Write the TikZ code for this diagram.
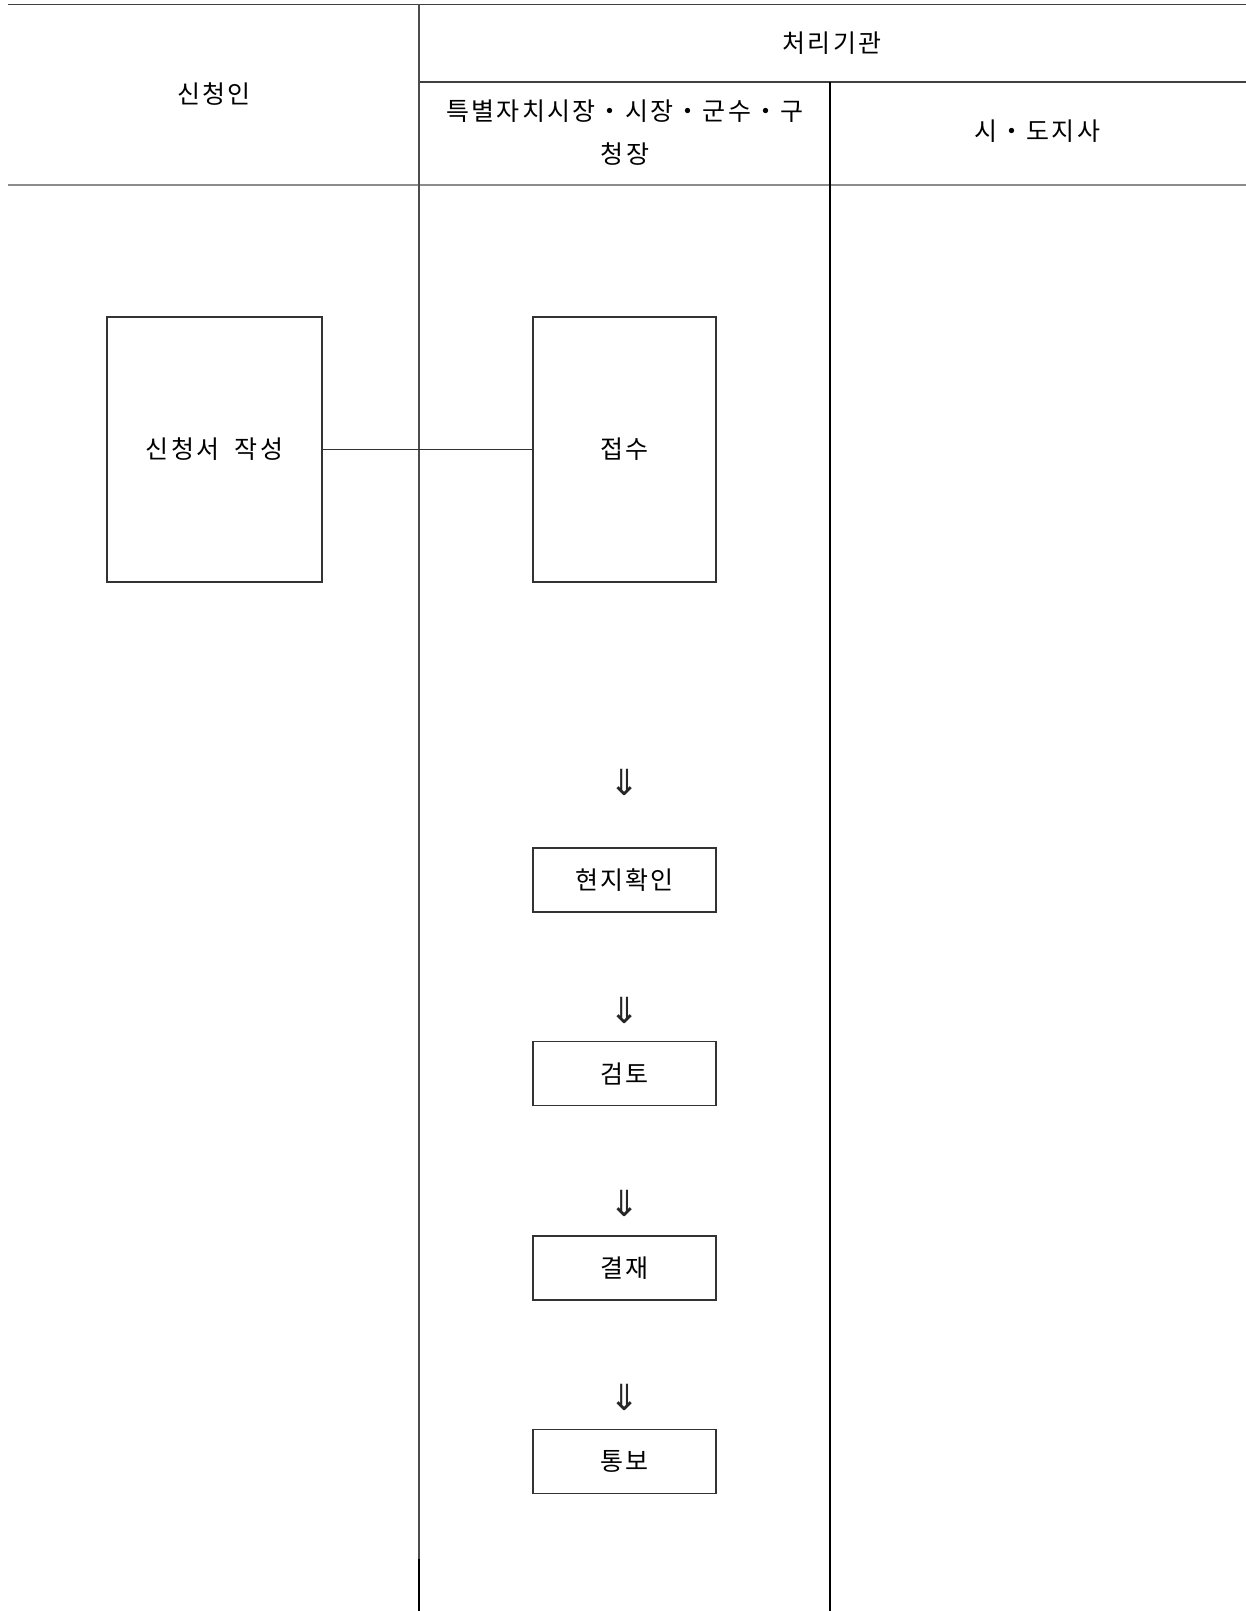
\documentclass[tikz,border=0pt]{standalone}
\usepackage{fontspec}
\setmainfont{Noto Sans CJK KR}[LetterSpace=9]
\newfontfamily\arrowfont{DejaVu Sans}
\begin{document}
\begin{tikzpicture}[x=1pt,y=-1pt,
  rule/.style={line width=1.3pt,draw=black!75},
  hdr/.style={font=\fontsize{25}{43}\selectfont,align=center,inner sep=0pt},
  procbox/.style={draw=black!80,line width=1.3pt,font=\fontsize{25}{30}\selectfont,inner sep=0pt,minimum width=183pt,minimum height=64pt},
  arr/.style={font=\arrowfont\fontsize{36}{36}\selectfont,text=black!85,inner sep=0pt}]
\useasboundingbox (0,0) rectangle (1246,1611);
% table rules
\coordinate (tl) at (8,4.5);
\coordinate (tr) at (1246,4.5);
\coordinate (ml) at (419,82);
\coordinate (mr) at (1246,82);
\coordinate (bl) at (8,185);
\coordinate (br) at (1246,185);
\coordinate (v1t) at (419,4.5);
\coordinate (v1m) at (419,1559);
\coordinate (v1b) at (419,1611);
\coordinate (v2t) at (830,82);
\coordinate (v2b) at (830,1611);
\draw[rule] (tl) -- (tr);
\draw[rule] (ml) -- (mr);
\draw[line width=2.2pt,draw=black!45] (bl) -- (br);
\draw[rule,draw=black!70] (v1t) -- (v1m);
\draw[rule,draw=black] (v1m) -- (v1b);
\draw[rule,draw=black] (v2t) -- (v2b);
% header texts
\node[hdr] (h0) at (832,43) {처리기관};
\node[hdr] (h1) at (214,94) {신청인};
\node[hdr] (h2) at (625,132.5) {특별자치시장・시장・군수・구\\청장};
\node[hdr] (h3) at (1037,131) {시・도지사};
% process boxes
\node[procbox,minimum width=215pt,minimum height=265pt] (apply) at (214.5,449.5) {신청서~~작성};
\node[procbox,minimum height=265pt] (recv) at (624.5,449.5) {접수};
\node[procbox] (site) at (624.5,880) {현지확인};
\node[procbox] (review) at (624.5,1073.5) {검토};
\node[procbox] (approve) at (624.5,1268) {결재};
\node[procbox] (notify) at (624.5,1461.5) {통보};
\draw[line width=1.3pt,draw=black!80] (apply.east) -- (recv.west);
% arrows
\node[arr] (a1) at (625,782) {⇓};
\node[arr] (a2) at (625,1010) {⇓};
\node[arr] (a3) at (625,1203) {⇓};
\node[arr] (a4) at (625,1397) {⇓};
\end{tikzpicture}
\end{document}
